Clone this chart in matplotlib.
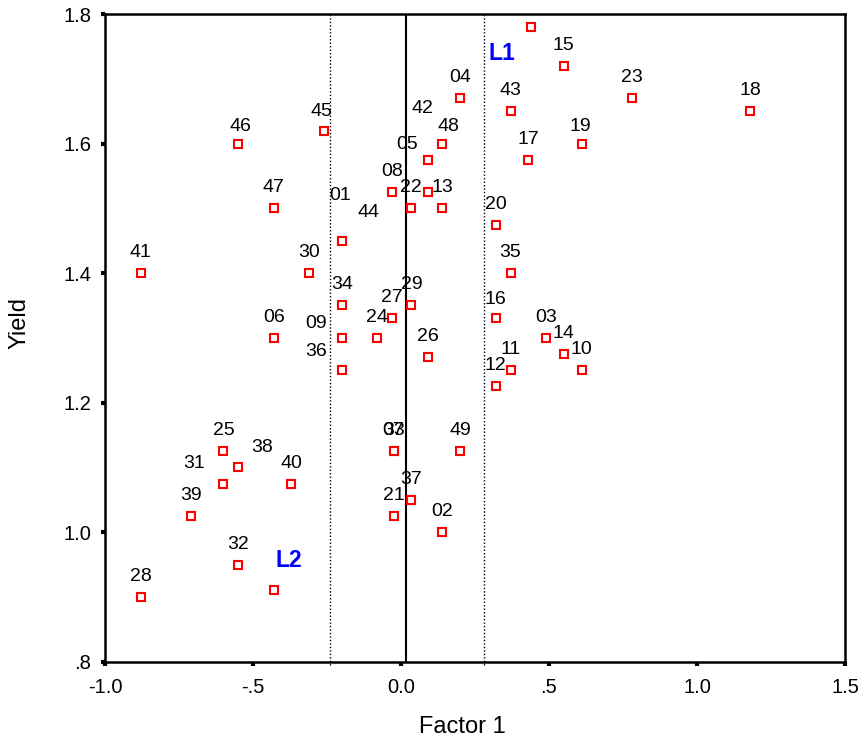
import matplotlib
matplotlib.use("Agg")
import matplotlib.pyplot as plt

plt.rcParams['font.family'] = ['Liberation Sans', 'DejaVu Sans']

# ---- data ----
ids = ['01', '02', '03', '04', '05', '06', '07', '08', '09', '10',
       '11', '12', '13', '14', '15', '16', '17', '18', '19', '20',
       '21', '22', '23', '24', '25', '26', '27', '28', '29', '30',
       '31', '32', '33', '34', '35', '36', '37', '38', '39', '40',
       '41', '42', '43', '44', '45', '46', '47', '48', '49']
factor1 = [-0.20, 0.14, 0.49, 0.20, 0.09, -0.43, -0.025, -0.03, -0.20, 0.61,
           0.37, 0.32, 0.14, 0.55, 0.55, 0.32, 0.43, 1.18, 0.61, 0.32,
           -0.025, 0.035, 0.78, -0.08, -0.60, 0.09, -0.03, -0.88, 0.035, -0.31,
           -0.60, -0.55, -0.025, -0.20, 0.37, -0.20, 0.035, -0.55, -0.71, -0.37,
           -0.88, 0.09, 0.37, -0.20, -0.26, -0.55, -0.43, 0.14, 0.20]
yield_ = [1.45, 1.00, 1.30, 1.67, 1.575, 1.30, 1.125, 1.525, 1.30, 1.25,
          1.25, 1.225, 1.50, 1.275, 1.72, 1.33, 1.575, 1.65, 1.60, 1.475,
          1.025, 1.50, 1.67, 1.30, 1.125, 1.27, 1.33, 0.90, 1.35, 1.40,
          1.075, 0.95, 1.125, 1.35, 1.40, 1.25, 1.05, 1.10, 1.025, 1.075,
          1.40, 1.525, 1.65, 1.45, 1.62, 1.60, 1.50, 1.60, 1.125]

check_ids = ['L1', 'L2']
check_factor1 = [0.44, -0.43]
check_yield = [1.78, 0.91]

vline_solid = 0.018
vlines_dotted = [-0.24, 0.28]

xticks = [-1.0, -0.5, 0.0, 0.5, 1.0, 1.5]
xtick_labels = ['-1.0', '-.5', '0.0', '.5', '1.0', '1.5']
yticks = [0.8, 1.0, 1.2, 1.4, 1.6, 1.8]
ytick_labels = ['.8', '1.0', '1.2', '1.4', '1.6', '1.8']

# ---- label placement (pixel offsets of label centre from marker) ----
default_off = (0, 23)
label_off = {
    '05': (-21, 18), '42': (-5, 86), '01': (-2, 48), '44': (27, 31),
    '09': (-26, 17), '36': (-26, 21), '48': (6, 20), '46': (2, 20),
    '31': (-29, 23), '38': (24, 22), '19': (-1, 20), '16': (0, 21),
    '45': (-3, 22), 'L1': (-29, -25), 'L2': (15, 32),
}

fig = plt.figure(figsize=(8.6, 7.44), dpi=100)
ax = fig.add_axes([105 / 860, 1 - 661.7 / 744, 740 / 860, 647.7 / 744])
ax.set_xlim(-1.0, 1.5)
ax.set_ylim(0.8, 1.8)

ax.axvline(vline_solid, color='black', lw=1.5, zorder=1)
for v in vlines_dotted:
    ax.plot([v, v], [0.795, 1.8], color='black', lw=1.0, ls=(0, (1, 1.5)),
            clip_on=False, zorder=1)

ax.plot(factor1, yield_, ls='none', marker='s', ms=6.2, mfc='white',
        mec='#ff0000', mew=1.5, zorder=3)
ax.plot(check_factor1, check_yield, ls='none', marker='s', ms=6.2, mfc='white',
        mec='#ff0000', mew=1.5, zorder=3)

cap_half = 7
for lab, xv, yv in zip(ids, factor1, yield_):
    dx, dy = label_off.get(lab, default_off)
    ax.annotate(lab, (xv, yv), xytext=(dx, dy - cap_half),
                textcoords='offset pixels', ha='center', va='baseline',
                fontsize=14, color='black', zorder=4)
for lab, xv, yv in zip(check_ids, check_factor1, check_yield):
    dx, dy = label_off.get(lab, default_off)
    ax.annotate(lab, (xv, yv), xytext=(dx, dy - 8.5),
                textcoords='offset pixels', ha='center', va='baseline',
                fontsize=16.5, fontweight='bold', color='#0000ff', zorder=4)

ax.set_xticks(xticks)
ax.set_xticklabels(xtick_labels)
ax.set_yticks(yticks)
ax.set_yticklabels(ytick_labels)
ax.tick_params(axis='both', direction='out', length=3, width=3,
               labelsize=14.5, colors='black')
ax.tick_params(axis='x', pad=9)
ax.tick_params(axis='y', pad=7)

for s in ax.spines.values():
    s.set_linewidth(1.8)
    s.set_color('black')

ax.set_xlabel('Factor 1', fontsize=17)
ax.set_ylabel('Yield', fontsize=17)
ax.xaxis.set_label_coords((462.5 - 105) / 740, -(727 - 661.7) / 647.7)
ax.yaxis.set_label_coords((20 - 105) / 740, (661.7 - 323) / 647.7)
ax.xaxis.label.set_va('center')
ax.yaxis.label.set_va('center')

fig.savefig('out.png', dpi=100)
